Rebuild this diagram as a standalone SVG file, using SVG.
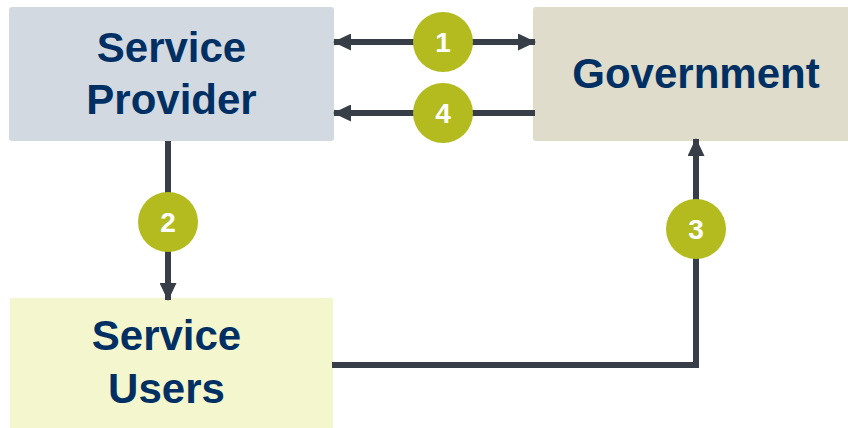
<svg xmlns="http://www.w3.org/2000/svg" width="848" height="428" viewBox="0 0 848 428">
  <style>
    .lbl { font-family: "Liberation Sans", Arial, sans-serif; font-weight: bold; font-size: 42px; fill: #003063; text-anchor: middle; }
    .num { font-family: "Liberation Sans", Arial, sans-serif; font-weight: bold; font-size: 28px; fill: #ffffff; text-anchor: middle; }
    .conn { stroke: #373e48; stroke-width: 6; fill: none; }
    .badge { fill: #b3bb1e; }
  </style>
  <defs>
    <marker id="ah" viewBox="0 0 18 17" refX="17" refY="8.5" markerWidth="18" markerHeight="17" markerUnits="userSpaceOnUse" orient="auto-start-reverse">
      <path d="M0,0 L18,8.5 L0,17 Z" fill="#373e48"/>
    </marker>
  </defs>
  <rect width="848" height="428" fill="#ffffff"/>
  <g id="service-provider">
    <rect x="9" y="7" width="325" height="134" rx="3" fill="#d3d9e1"/>
    <text class="lbl" x="171.5" y="62">Service</text>
    <text class="lbl" x="171.5" y="114">Provider</text>
  </g>
  <g id="government">
    <rect x="533" y="7" width="320" height="134" rx="3" fill="#dfdccb"/>
    <text class="lbl" x="696" y="88">Government</text>
  </g>
  <g id="service-users">
    <rect x="10" y="298" width="323" height="135" fill="#f4f7cd"/>
    <text class="lbl" x="166.5" y="350">Service</text>
    <text class="lbl" x="166.5" y="403">Users</text>
  </g>
  <g id="connectors">
    <line class="conn" x1="334" y1="42" x2="535" y2="42" marker-start="url(#ah)" marker-end="url(#ah)"/>
    <line class="conn" x1="535" y1="113" x2="334" y2="113" marker-end="url(#ah)"/>
    <line class="conn" x1="168" y1="141" x2="168" y2="300" marker-end="url(#ah)"/>
    <polyline class="conn" points="332,365 696,365 696,139" marker-end="url(#ah)"/>
  </g>
  <g id="badge-1">
    <circle class="badge" cx="443" cy="42" r="30"/>
    <text class="num" x="443" y="52">1</text>
  </g>
  <g id="badge-4">
    <circle class="badge" cx="443" cy="113" r="30"/>
    <text class="num" x="443" y="123">4</text>
  </g>
  <g id="badge-2">
    <circle class="badge" cx="168" cy="222" r="30"/>
    <text class="num" x="168" y="232">2</text>
  </g>
  <g id="badge-3">
    <circle class="badge" cx="696" cy="229" r="30"/>
    <text class="num" x="696" y="239">3</text>
  </g>
</svg>
